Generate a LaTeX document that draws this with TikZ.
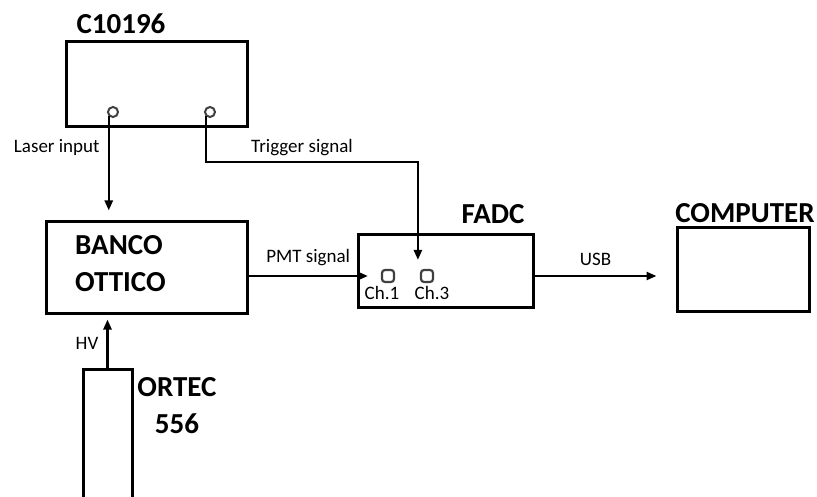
\documentclass[tikz,border=0pt]{standalone}
\usepackage{fontspec}
\setmainfont{Carlito}
\usetikzlibrary{arrows.meta}

\begin{document}
\begin{tikzpicture}[x=1pt, y=-1pt, >={Triangle[length=10pt,width=8pt]},
    box/.style = {draw, line width=3pt, inner sep=0pt},
    port/.style = {draw=black!75, circle, line width=2pt, minimum size=10pt, inner sep=0pt},
    chan/.style = {draw=black!75, rounded corners=3pt, line width=2.2pt, minimum size=12pt, inner sep=0pt},
    title/.style = {font=\bfseries\fontsize{29}{37}\selectfont, inner sep=0pt},
    lbl/.style = {font=\fontsize{19}{21}\selectfont, inner sep=0pt},
    wire/.style = {line width=2.4pt}]
    \useasboundingbox (0,0) rectangle (817,497);
    \clip (0,0) rectangle (817,497);
    % boxes
    \node[box, minimum width=181pt, minimum height=85pt] (c10196) at (156.5,84.5) {};
    \node[box, minimum width=201pt, minimum height=91pt] (banco) at (146.5,267.5) {};
    \node[box, minimum width=175pt, minimum height=72pt] (fadc) at (445.5,271) {};
    \node[box, minimum width=132pt, minimum height=83pt] (computer) at (743,269.5) {};
    \node[box, minimum width=49pt, minimum height=160pt] (ortec) at (107.5,449) {};
    % titles
    \node[title] (c10196t) at (121,24) {C10196};
    \node[title, align=left, anchor=west] (bancot) at (75,264) {BANCO\\OTTICO};
    \node[title] (fadct) at (493,214) {FADC};
    \node[title] (computert) at (745,213) {COMPUTER};
    \node[title, align=center] (ortect) at (177,406) {ORTEC\\556};
    % ports
    \node[port] (laserport) at (113,112) {};
    \node[port] (trigport) at (210,112) {};
    \node[chan] (ch1) at (388,276) {};
    \node[chan] (ch3) at (427,276) {};
    \node[lbl] (ch1t) at (382,293) {Ch.1};
    \node[lbl] (ch3t) at (432,293) {Ch.3};
    % connectors
    \draw[wire, ->] (laserport.south west) -- (laserport.south west |- banco.north)
        [shorten >=10pt] node[lbl, pos=0.3, left=8pt] {Laser input};
    \draw[wire, ->] (trigport.south west) -- ++(0,46) coordinate (trigturn)
        -| ([xshift=-2pt, yshift=9pt]ch3.north west);
    \node[lbl] (trigt) at (302,148) {Trigger signal};
    \draw[wire, ->] (banco.east |- ch1) -- ([xshift=-13pt]ch1.west)
        node[lbl, midway, above=9pt] {PMT signal};
    \draw[wire, ->] (fadc.east |- ch1) -- ([xshift=-19pt]computer.west |- ch1)
        node[lbl, midway, above=9pt] {USB};
    \draw[wire, ->] (ortec.north) -- ([yshift=-5pt]ortec.north |- banco.south)
        node[lbl, midway, left=8pt] {HV};
\end{tikzpicture}
\end{document}
